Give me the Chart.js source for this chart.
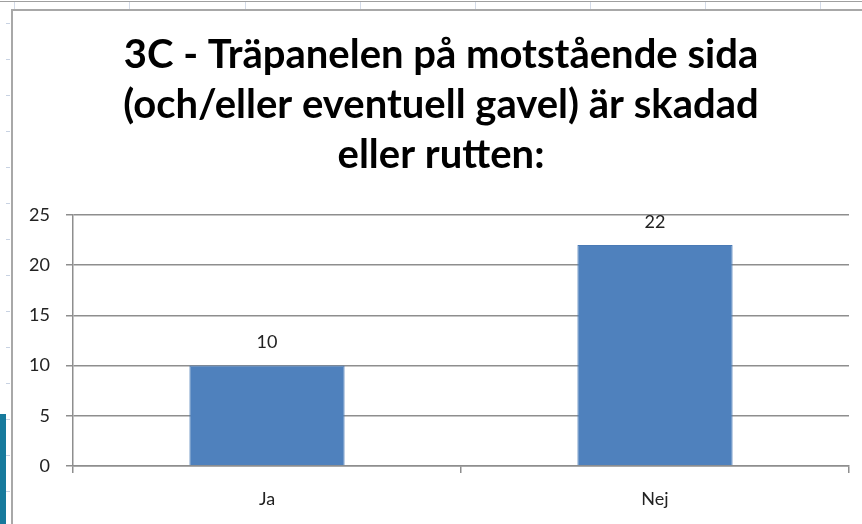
<!DOCTYPE html>
<html>
<head>
<meta charset="utf-8">
<script src="https://cdn.jsdelivr.net/npm/chart.js@4"></script>
<style>
  html, body { margin: 0; padding: 0; background: #fff; overflow: hidden; }
  #wrap { position: relative; width: 862px; height: 524px; }
  /* spreadsheet bits around the chart object */
  .sheet-top { position: absolute; left: 0; top: 1px; width: 862px; height: 1px; background: #a0a0a0; }
  .col-line { position: absolute; top: 2px; width: 1px; height: 8px; background: #d4dbe8; }
  .row-mark { position: absolute; left: 6px; width: 4px; height: 1px; background: #c8d2e2; }
  .blue-tab { position: absolute; left: 0; top: 414px; width: 6px; height: 110px; background: #177a9c; }
  .chart-frame { position: absolute; left: 11px; top: 9px; width: 900px; height: 600px;
                 border-left: 2px solid #a8a8a8; border-top: 2px solid #a8a8a8; }
  canvas { position: absolute; left: 0; top: 0; }
</style>
</head>
<body>
<div id="wrap">
  <div class="sheet-top"></div>
  <div class="blue-tab"></div>
  <div class="chart-frame"></div>
  <canvas id="chart-skadad" width="862" height="524"></canvas>
</div>
<script>
/* ── data ──────────────────────────────────────────── */
const categories = ['Ja', 'Nej'];
const values     = [10, 22];
const titleLines = ['3C - Träpanelen på motstående sida', '(och/eller eventuell gavel) är skadad', 'eller rutten:'];

/* ── sheet decoration (column / row marks) ─────────── */
(function sheetDecor() {
  const wrap = document.getElementById('wrap');
  [14, 129, 245, 360, 475, 590, 705, 820].forEach(x => {
    const d = document.createElement('div');
    d.className = 'col-line'; d.style.left = x + 'px';
    wrap.insertBefore(d, wrap.firstChild);
  });
  for (let y = 23; y < 524; y += 36) {
    const d = document.createElement('div');
    d.className = 'row-mark'; d.style.top = y + 'px';
    wrap.insertBefore(d, wrap.firstChild);
  }
})();

/* ── value labels above bars ───────────────────────── */
const valueLabels = {
  id: 'valueLabels',
  afterDatasetsDraw(chart) {
    const ctx = chart.ctx;
    chart.getDatasetMeta(0).data.forEach((bar, i) => {
      ctx.save();
      ctx.font = '18px Lato';
      ctx.fillStyle = '#222';
      ctx.textAlign = 'center';
      ctx.textBaseline = 'middle';
      ctx.fillText(values[i], bar.x, bar.y - 23);
      ctx.restore();
    });
  }
};

// the chart object starts at the sheet border, so centre the title on that
const titleShift = {
  id: 'titleShift',
  afterLayout(chart) {
    if (chart.titleBlock) chart.titleBlock.left += 33;
  }
};

const gridCol = '#8e8e8e';

new Chart(document.getElementById('chart-skadad'), {
  type: 'bar',
  data: {
    labels: categories,
    datasets: [{
      data: values,
      backgroundColor: '#4f81bd',
      borderColor: '#4a7ab5',
      borderWidth: 1,
      categoryPercentage: 1,
      barPercentage: 0.4,
    }]
  },
  options: {
    responsive: false,
    animation: false,
    layout: { padding: { left: 0, right: 13, top: 30, bottom: 14 } },
    plugins: {
      legend: { display: false },
      tooltip: { enabled: false },
      title: {
        display: true,
        text: titleLines,
        color: '#000',
        font: { family: 'Lato', size: 40, weight: 'bold', lineHeight: 1.25 },
        padding: { top: 0, bottom: 35 },
      },
    },
    scales: {
      x: {
        afterFit: s => { s.height = 44; },
        grid: { offset: true, drawOnChartArea: false, color: gridCol, tickLength: 7, lineWidth: 1.5 },
        border: { display: true, color: gridCol, width: 1.5 },
        ticks: { font: { family: 'Lato', size: 18 }, color: '#222', padding: 15 },
      },
      y: {
        min: 0, max: 25,
        afterFit: s => { s.width = 73; },
        grid: { color: gridCol, tickLength: 7, lineWidth: 1.5 },
        border: { display: true, color: gridCol, width: 1.5 },
        ticks: { stepSize: 5, font: { family: 'Lato', size: 18 }, color: '#222', padding: 16 },
      }
    }
  },
  plugins: [valueLabels, titleShift]
});
</script>
</body>
</html>
